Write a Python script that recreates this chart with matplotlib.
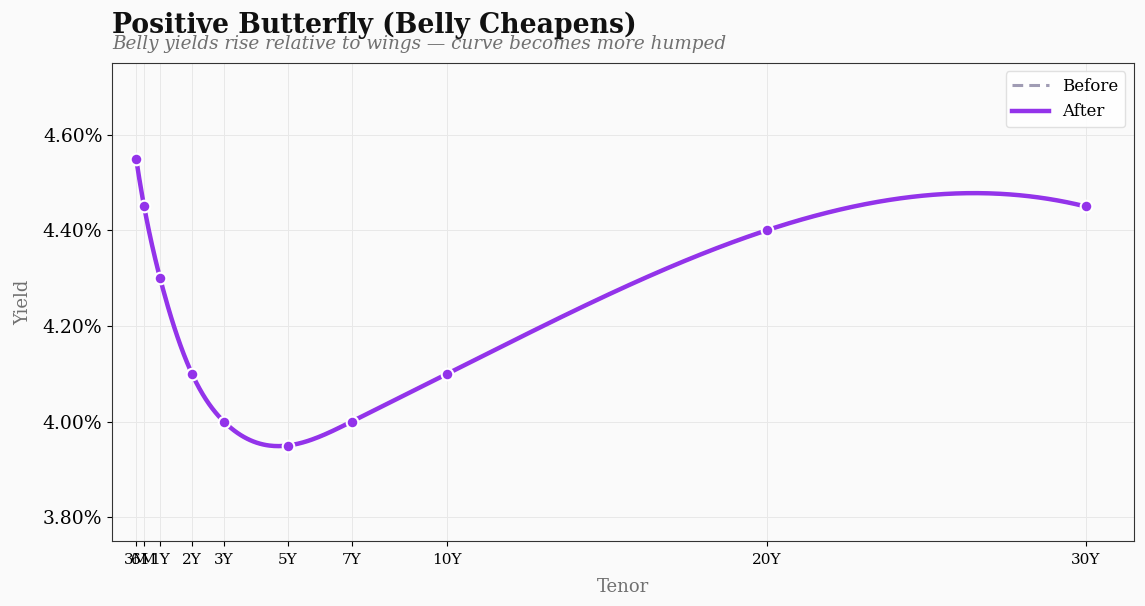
import numpy as np
import matplotlib
matplotlib.use("Agg")
import matplotlib.pyplot as plt
from matplotlib.ticker import FuncFormatter

tenors = ["3M", "6M", "1Y", "2Y", "3Y", "5Y", "7Y", "10Y", "20Y", "30Y"]
years = [0.25, 0.5, 1, 2, 3, 5, 7, 10, 20, 30]
before = [4.55, 4.45, 4.30, 4.10, 4.00, 3.95, 4.00, 4.10, 4.40, 4.45]
after = [4.55, 4.45, 4.30, 4.10, 4.00, 3.95, 4.00, 4.10, 4.40, 4.45]

PURPLE = "#9333ea"
GREY = "#a09cb4"
BG = "#fafafa"


def spline(x, y, xs):
    # not-a-knot cubic spline, numpy only
    x = np.asarray(x, float)
    y = np.asarray(y, float)
    n = len(x)
    h = np.diff(x)
    A = np.zeros((n, n))
    b = np.zeros(n)
    for i in range(1, n - 1):
        A[i, i - 1] = h[i - 1]
        A[i, i] = 2 * (h[i - 1] + h[i])
        A[i, i + 1] = h[i]
        b[i] = 6 * ((y[i + 1] - y[i]) / h[i] - (y[i] - y[i - 1]) / h[i - 1])
    A[0, 0], A[0, 1], A[0, 2] = h[1], -(h[0] + h[1]), h[0]
    A[-1, -3], A[-1, -2], A[-1, -1] = h[-1], -(h[-2] + h[-1]), h[-2]
    M = np.linalg.solve(A, b)
    idx = np.clip(np.searchsorted(x, xs) - 1, 0, n - 2)
    x0, x1 = x[idx], x[idx + 1]
    hh = x1 - x0
    t0, t1 = x1 - xs, xs - x0
    return (M[idx] * t0**3 / (6 * hh) + M[idx + 1] * t1**3 / (6 * hh)
            + (y[idx] / hh - M[idx] * hh / 6) * t0
            + (y[idx + 1] / hh - M[idx + 1] * hh / 6) * t1)


xs = np.linspace(years[0], years[-1], 600)

plt.rcParams["font.family"] = "DejaVu Serif"
fig, ax = plt.subplots(figsize=(11.45, 6.06), dpi=100)
fig.patch.set_facecolor(BG)
ax.set_facecolor(BG)
fig.subplots_adjust(left=0.098, right=0.99, top=0.896, bottom=0.107)

ax.plot(xs, spline(years, before, xs), ls=(0, (3.5, 2)), color=GREY, lw=2.2, label="Before", zorder=2)
ax.plot(xs, spline(years, after, xs), color=PURPLE, lw=3.2, label="After", zorder=3)
ax.scatter(years, after, s=70, color=PURPLE, edgecolor="white", linewidth=1.5, zorder=4)

ax.set_xlim(-0.5, 31.5)
ax.set_ylim(3.75, 4.75)
ax.set_xticks(years)
ax.set_xticklabels(tenors, fontsize=11)
ax.set_yticks([3.8, 4.0, 4.2, 4.4, 4.6])
ax.yaxis.set_major_formatter(FuncFormatter(lambda v, p: f"{v:.2f}%"))
ax.tick_params(axis="y", labelsize=13.5)
ax.tick_params(axis="x", pad=5)
ax.grid(True, color="#e8e8e8", lw=0.7)
ax.set_axisbelow(True)
for s in ax.spines.values():
    s.set_color("#333333")
ax.set_xlabel("Tenor", color="#707070", fontsize=13, labelpad=8)
ax.set_ylabel("Yield", color="#707070", fontsize=13, labelpad=8)

ax.legend(loc="upper right", fontsize=12, framealpha=0.9, edgecolor="#dddddd",
          handlelength=2.2)

fig.text(0.098, 0.958, "Positive Butterfly (Belly Cheapens)", fontsize=19.2,
         fontweight="bold", color="#111111", va="center")
fig.text(0.098, 0.927, "Belly yields rise relative to wings \u2014 curve becomes more humped",
         fontsize=13.2, style="italic", color="#707070", va="center")

fig.savefig("out.png", dpi=100, facecolor=BG)
